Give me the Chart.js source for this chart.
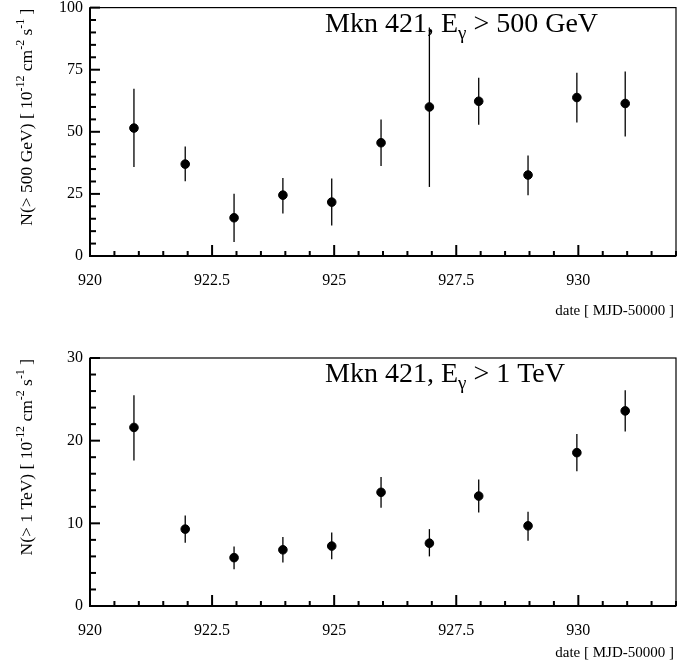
<!DOCTYPE html>
<html>
<head>
<meta charset="utf-8">
<script src="https://cdn.jsdelivr.net/npm/chart.js@4.4.1/dist/chart.umd.min.js"></script>
<style>
  body { margin: 0; background: #fff; }
  canvas { display: block; }
  #chart500 { margin-top: -9px; }
</style>
</head>
<body>
<canvas id="chart500" width="694" height="339"></canvas>
<canvas id="chart1tev" width="694" height="340"></canvas>
<script>
// dates of the nights (MJD - 50000)
const dates = [920.9, 921.95, 922.95, 923.95, 924.95, 925.96, 926.95, 927.96, 928.97, 929.97, 930.96];

// N(>500 GeV), 10^-12 cm^-2 s^-1
const flux500 = [51.5, 37.0, 15.4, 24.5, 21.7, 45.6, 60.0, 62.3, 32.6, 63.8, 61.4];
const flux500Hi = [67.3, 44.1, 25.1, 31.4, 31.2, 55.0, 92.0, 71.8, 40.5, 73.8, 74.3];
const flux500Lo = [35.8, 30.1, 5.6, 17.1, 12.3, 36.2, 27.8, 52.8, 24.5, 53.7, 48.1];

// N(>1 TeV)
const flux1tev = [21.6, 9.3, 5.85, 6.8, 7.25, 13.75, 7.6, 13.3, 9.7, 18.55, 23.6];
const flux1tevHi = [25.5, 10.95, 7.2, 8.35, 8.9, 15.6, 9.3, 15.3, 11.4, 20.8, 26.1];
const flux1tevLo = [17.6, 7.65, 4.45, 5.25, 5.65, 11.9, 6.0, 11.3, 7.9, 16.3, 21.1];

const xTicks = [920, 922.5, 925, 927.5, 930];
const yTicks500 = [0, 25, 50, 75, 100];
const yTicks1tev = [0, 10, 20, 30];

const FONT = '"Liberation Serif", "Times New Roman", serif';

// draws text with superscript / subscript pieces
function drawRich(ctx, parts, x, y, size, align) {
  const widths = parts.map(p => {
    ctx.font = (p.sup || p.sub ? size * 0.68 : size) + 'px ' + FONT;
    return ctx.measureText(p.t).width;
  });
  const total = widths.reduce((a, b) => a + b, 0);
  let cx = align === 'right' ? x - total : x;
  ctx.textAlign = 'left';
  ctx.textBaseline = 'alphabetic';
  parts.forEach((p, i) => {
    ctx.font = (p.sup || p.sub ? size * 0.68 : size) + 'px ' + FONT;
    let dy = 0;
    if (p.sup) dy = -size * 0.45;
    if (p.sub) dy = size * 0.25;
    ctx.fillText(p.t, cx, y + dy);
    cx += widths[i];
  });
}

function makePanel(id, vals, lo, hi, yMax, yTicks, yMinor, yTitle, title, padTop, xHeight, xTitleGap) {
  const frame = {
    id: 'frame',
    beforeDatasetsDraw(chart) {
      const { ctx, scales: { x, y } } = chart;
      ctx.save();
      ctx.strokeStyle = '#000';
      // error bars
      ctx.lineWidth = 1.3;
      dates.forEach((d, i) => {
        const px = x.getPixelForValue(d);
        ctx.beginPath();
        ctx.moveTo(px, y.getPixelForValue(lo[i]));
        ctx.lineTo(px, y.getPixelForValue(hi[i]));
        ctx.stroke();
      });
      ctx.restore();
    },
    afterDatasetsDraw(chart) {
      const { ctx, chartArea: a, scales: { x, y } } = chart;
      ctx.save();
      ctx.strokeStyle = '#000';
      ctx.lineWidth = 1.2;
      ctx.strokeRect(a.left, a.top, a.right - a.left, a.bottom - a.top);
      ctx.lineWidth = 2;
      ctx.beginPath();
      ctx.moveTo(a.left, a.top); ctx.lineTo(a.left, a.bottom); ctx.lineTo(a.right, a.bottom);
      ctx.stroke();
      // x ticks, inward
      for (let v = 920; v <= 932 + 1e-9; v += 0.5) {
        const px = x.getPixelForValue(v);
        const major = Math.abs(v / 2.5 - Math.round(v / 2.5)) < 1e-6;
        ctx.beginPath();
        ctx.moveTo(px, a.bottom);
        ctx.lineTo(px, a.bottom - (major ? 11 : 5));
        ctx.stroke();
      }
      // y ticks, inward
      for (let v = 0; v <= yMax + 1e-9; v += yMinor) {
        const py = y.getPixelForValue(v);
        const major = yTicks.some(t => Math.abs(t - v) < 1e-6);
        ctx.beginPath();
        ctx.moveTo(a.left, py);
        ctx.lineTo(a.left + (major ? 10 : 6), py);
        ctx.stroke();
      }
      // texts
      ctx.fillStyle = '#000';
      drawRich(ctx, title, 325, a.top + 24, 28, 'left');
      ctx.font = '15px ' + FONT;
      ctx.textAlign = 'right';
      ctx.textBaseline = 'alphabetic';
      ctx.fillText('date [ MJD-50000 ]', 674, a.bottom + xTitleGap);
      ctx.translate(32, a.top + 1);
      ctx.rotate(-Math.PI / 2);
      drawRich(ctx, yTitle, 0, 0, 17.5, 'right');
      ctx.restore();
    }
  };

  return new Chart(document.getElementById(id), {
    type: 'scatter',
    data: {
      datasets: [{
        data: dates.map((d, i) => ({ x: d, y: vals[i] })),
        backgroundColor: '#000',
        borderColor: '#000',
        pointRadius: 4.3,
        pointHoverRadius: 4.3
      }]
    },
    options: {
      responsive: false,
      animation: false,
      devicePixelRatio: 1,
      layout: { padding: { left: 0, right: 18, top: padTop, bottom: 0 } },
      plugins: { legend: { display: false }, tooltip: { enabled: false } },
      scales: {
        x: {
          type: 'linear', min: 920, max: 932,
          grid: { display: false, drawTicks: false },
          border: { display: false },
          afterBuildTicks: s => { s.ticks = xTicks.map(v => ({ value: v })); },
          afterFit: s => { s.height = xHeight; },
          ticks: { color: '#000', padding: 15, font: { family: FONT, size: 16 }, maxRotation: 0,
            callback: v => String(v) }
        },
        y: {
          type: 'linear', min: 0, max: yMax,
          grid: { display: false, drawTicks: false },
          border: { display: false },
          afterBuildTicks: s => { s.ticks = yTicks.map(v => ({ value: v })); },
          afterFit: s => { s.width = 90; },
          ticks: { color: '#000', padding: 7, font: { family: FONT, size: 16 },
            callback: v => String(v) }
        }
      }
    },
    plugins: [frame]
  });
}

makePanel('chart500', flux500, flux500Lo, flux500Hi, 100, yTicks500, 5,
  [{ t: 'N(> 500 GeV) [ 10' }, { t: '-12', sup: true }, { t: ' cm' }, { t: '-2', sup: true },
   { t: ' s' }, { t: '-1', sup: true }, { t: ' ]' }],
  [{ t: 'Mkn 421, E' }, { t: 'γ', sub: true }, { t: ' > 500 GeV' }],
  16, 74, 59);

makePanel('chart1tev', flux1tev, flux1tevLo, flux1tevHi, 30, yTicks1tev, 2,
  [{ t: 'N(> 1 TeV) [ 10' }, { t: '-12', sup: true }, { t: ' cm' }, { t: '-2', sup: true },
   { t: ' s' }, { t: '-1', sup: true }, { t: ' ]' }],
  [{ t: 'Mkn 421, E' }, { t: 'γ', sub: true }, { t: ' > 1 TeV' }],
  28, 64, 51);
</script>
</body>
</html>
